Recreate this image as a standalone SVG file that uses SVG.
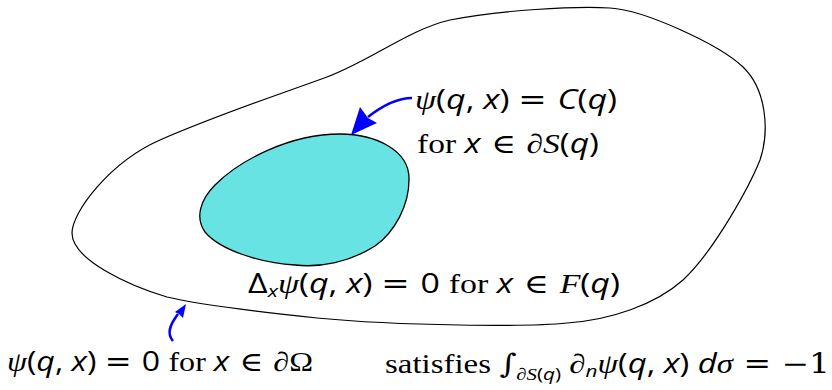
<svg xmlns="http://www.w3.org/2000/svg" width="832" height="390" viewBox="0 0 832 390">
<style>
text{font-size:27px;fill:#000;font-family:"Liberation Serif",serif}
.sf{font-family:"Open Sans","DejaVu Sans",sans-serif;font-style:italic}
.su{font-family:"Open Sans","DejaVu Sans",sans-serif}
.ps{font-family:"Liberation Serif",serif;font-style:italic}
.sy{font-family:"DejaVu Serif",serif}
.sb{font-size:17px}
.blue{fill:none;stroke:#0000ff;stroke-width:2.6}
.head{fill:#0000ff;stroke:none}
</style>
<g id="domain">
<path d="M72,233 C72,212 110,162 160,140 C220,114 272,97 327,77 C370,61 410,29 450,20 C500,10 575,6 610,8 C645,10 720,45 743,67 C766,89 770,130 760,160 C750,185 715,250 683,280 C655,305 610,320 567,323 C530,327 400,326 317,318 C270,313 200,305 167,297 C130,286 72,260 72,233 Z" fill="none" stroke="#000" stroke-width="1.2"/>
</g>
<g id="body">
<path d="M340,134 C375,134 410,150 409,180 C409,205 395,232 375,246 C350,262 320,268 295,265 C260,263 220,250 205,232 C195,218 200,200 215,185 C240,160 290,134 340,134 Z" fill="#66e3e2" stroke="#000" stroke-width="1.3"/>
</g>
<g id="connectors">
<path class="blue" d="M412,98 C398,98 382,106 368,117"/>
<polygon class="head" points="351,135 360,107 368,118 377,123"/>
<path class="blue" d="M173,341 C167,334 169,326 178,314"/>
<polygon class="head" points="186,304 175,312 179,314 183,318"/>
</g>
<g id="label-surface">
<text x="415" y="109" textLength="202" lengthAdjust="spacingAndGlyphs"><tspan class="ps">ψ</tspan><tspan class="su">(</tspan><tspan class="sf">q</tspan><tspan class="su">, </tspan><tspan class="sf">x</tspan><tspan class="su">) </tspan><tspan class="sy">= </tspan><tspan class="sf">C</tspan><tspan class="su">(</tspan><tspan class="sf">q</tspan><tspan class="su">)</tspan></text>
<text x="417" y="153" textLength="182" lengthAdjust="spacingAndGlyphs">for <tspan class="sf">x</tspan><tspan class="sy"> ∈ </tspan><tspan class="ps">∂S</tspan><tspan class="su">(</tspan><tspan class="sf">q</tspan><tspan class="su">)</tspan></text>
</g>
<g id="label-fluid">
<text x="248" y="293" textLength="372" lengthAdjust="spacingAndGlyphs"><tspan class="su">Δ</tspan><tspan class="sf sb" dy="4">x</tspan><tspan class="ps" dy="-4">ψ</tspan><tspan class="su">(</tspan><tspan class="sf">q</tspan><tspan class="su">, </tspan><tspan class="sf">x</tspan><tspan class="su">) </tspan><tspan class="sy">= </tspan><tspan class="su">0 </tspan>for <tspan class="sf">x</tspan><tspan class="sy"> ∈ </tspan><tspan class="ps">F</tspan><tspan class="su">(</tspan><tspan class="sf">q</tspan><tspan class="su">)</tspan></text>
</g>
<g id="label-boundary">
<text x="7" y="371" textLength="306" lengthAdjust="spacingAndGlyphs"><tspan class="ps">ψ</tspan><tspan class="su">(</tspan><tspan class="sf">q</tspan><tspan class="su">, </tspan><tspan class="sf">x</tspan><tspan class="su">) </tspan><tspan class="sy">= </tspan><tspan class="su">0 </tspan>for <tspan class="sf">x</tspan><tspan class="sy"> ∈ </tspan><tspan class="ps">∂</tspan>Ω</text>
</g>
<g id="label-flux">
<text x="385" y="373" textLength="445" lengthAdjust="spacingAndGlyphs">satisfies <tspan class="sy" font-style="italic">∫</tspan><tspan class="sb" dy="7"><tspan class="ps">∂S</tspan><tspan class="su">(</tspan><tspan class="sf">q</tspan><tspan class="su">)</tspan></tspan><tspan class="ps" dy="-7"> ∂</tspan><tspan class="sf sb" dy="4">n</tspan><tspan class="ps" dy="-4">ψ</tspan><tspan class="su">(</tspan><tspan class="sf">q</tspan><tspan class="su">, </tspan><tspan class="sf">x</tspan><tspan class="su">) </tspan><tspan class="sf">d</tspan><tspan class="ps">σ</tspan><tspan class="sy"> = −1</tspan></text>
</g>
</svg>
